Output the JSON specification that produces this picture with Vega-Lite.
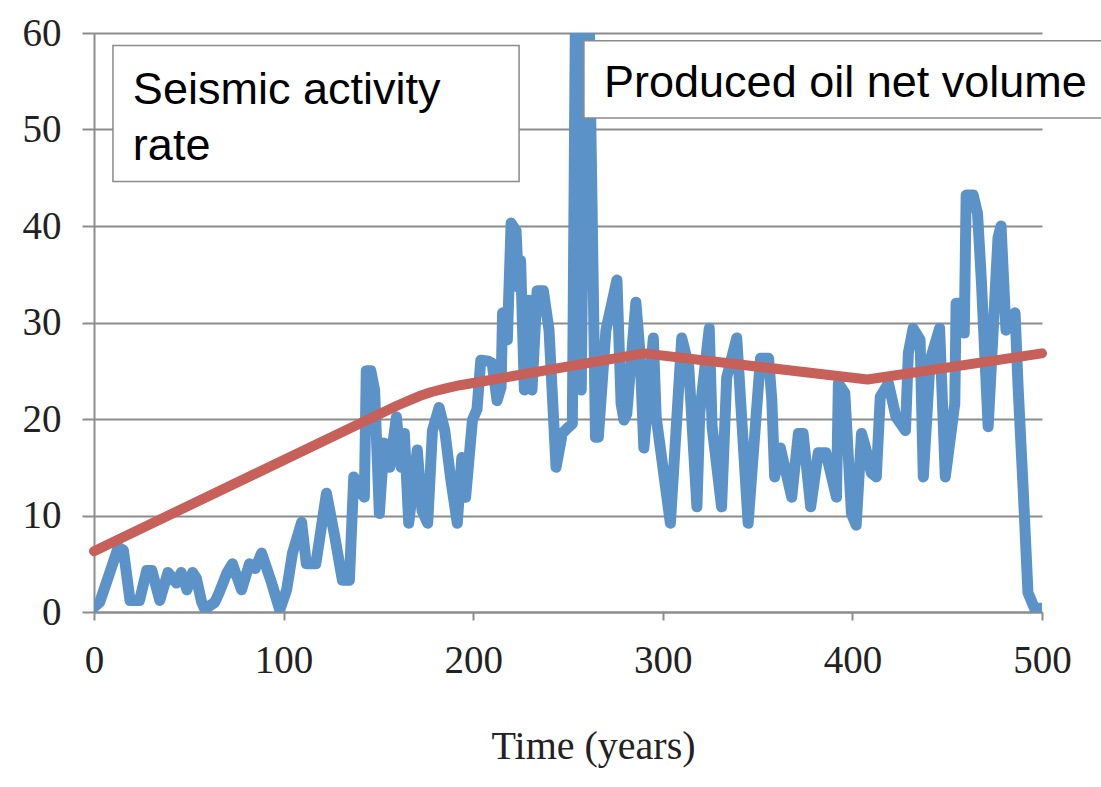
{
  "$schema": "https://vega.github.io/schema/vega-lite/v6.json",
  "autosize": {"type": "none"},
  "width": 948,
  "height": 579,
  "padding": {"left": 94, "top": 33, "right": 59, "bottom": 175},
  "background": "white",
  "config": {
    "view": {"stroke": null},
    "axis": {
      "domainColor": "#8c8c8c", "domainWidth": 2,
      "tickColor": "#8c8c8c", "tickWidth": 2,
      "gridColor": "#8c8c8c", "gridWidth": 2,
      "labelFont": "Liberation Serif", "labelFontSize": 39, "labelColor": "#222222", "labelFlush": false,
      "titleFont": "Liberation Serif", "titleFontSize": 40, "titleFontWeight": "normal", "titleColor": "#222222"
    }
  },
  "datasets": {
    "seismic": [
      {"t":0,"v":0.5},{"t":3,"v":1},{"t":7.5,"v":3.6},{"t":12.8,"v":6.7},{"t":15.5,"v":6.4},{"t":19,"v":1.2},{"t":24,"v":1.2},{"t":27.8,"v":4.3},{"t":30.5,"v":4.3},{"t":34.7,"v":1.2},{"t":39,"v":4.1},{"t":43.5,"v":3},{"t":46,"v":4.1},{"t":49,"v":2.3},{"t":52,"v":4.1},{"t":54,"v":3.5},{"t":56.8,"v":1},{"t":58.4,"v":0.3},{"t":63.7,"v":1},{"t":66,"v":2},{"t":70,"v":4},{"t":73,"v":5},{"t":77.8,"v":2.3},{"t":82,"v":5},{"t":85,"v":4.5},{"t":88.4,"v":6.1},{"t":93.7,"v":3},{"t":98,"v":0.2},{"t":101.6,"v":2.3},{"t":104.7,"v":6.1},{"t":109.5,"v":9.3},{"t":112,"v":5},{"t":117,"v":5},{"t":122.6,"v":12.3},{"t":127,"v":7.8},{"t":131,"v":3.3},{"t":134.7,"v":3.3},{"t":137,"v":14},{"t":140,"v":12.6},{"t":142.6,"v":11.9},{"t":143.6,"v":25},{"t":146,"v":25},{"t":148,"v":23},{"t":150.5,"v":10.2},{"t":153,"v":17.5},{"t":156,"v":15},{"t":159.5,"v":20.2},{"t":162,"v":15},{"t":163.7,"v":18.5},{"t":166,"v":9.2},{"t":170.5,"v":16.8},{"t":173,"v":10.5},{"t":176,"v":9.2},{"t":178.5,"v":18.8},{"t":182,"v":21.2},{"t":185,"v":18.8},{"t":188,"v":14},{"t":191.6,"v":9.2},{"t":194,"v":16},{"t":196,"v":11.9},{"t":199.6,"v":19.9},{"t":202,"v":21},{"t":204,"v":26.1},{"t":208,"v":26},{"t":210,"v":25.8},{"t":212.6,"v":21.9},{"t":214.7,"v":23.3},{"t":215.5,"v":31},{"t":218,"v":28.2},{"t":220,"v":40.3},{"t":222.6,"v":39.5},{"t":224,"v":33.6},{"t":225,"v":36.4},{"t":227,"v":23},{"t":229.5,"v":32.3},{"t":231,"v":23},{"t":233.7,"v":33.3},{"t":237,"v":33.3},{"t":240,"v":29.2},{"t":243.7,"v":15},{"t":247,"v":18.5},{"t":250.5,"v":19.2},{"t":252.3,"v":19.5},{"t":254.6,"v":80},{"t":257,"v":23},{"t":259.8,"v":80},{"t":264.5,"v":18.1},{"t":266,"v":18.1},{"t":270,"v":29.2},{"t":275.8,"v":34.4},{"t":278,"v":21.6},{"t":279.5,"v":19.9},{"t":281,"v":20.5},{"t":285.8,"v":32.1},{"t":288,"v":26.8},{"t":290,"v":17},{"t":295,"v":28.4},{"t":296.5,"v":20.2},{"t":304,"v":9.2},{"t":310,"v":28.4},{"t":313.7,"v":25.4},{"t":318,"v":10.9},{"t":319.5,"v":20.6},{"t":324.5,"v":29.4},{"t":326,"v":19.2},{"t":331,"v":10.9},{"t":333.7,"v":24.3},{"t":339,"v":28.4},{"t":345,"v":9.2},{"t":351.5,"v":26.3},{"t":355.8,"v":26.3},{"t":357.5,"v":22},{"t":359,"v":14},{"t":362,"v":17},{"t":368,"v":11.9},{"t":371.5,"v":18.5},{"t":374,"v":18.5},{"t":378,"v":10.9},{"t":382,"v":16.5},{"t":386,"v":16.5},{"t":391.6,"v":11.9},{"t":392.6,"v":23.7},{"t":396,"v":22.7},{"t":399.5,"v":10.2},{"t":402,"v":9},{"t":404.8,"v":18.5},{"t":407,"v":17},{"t":410,"v":14.4},{"t":412.6,"v":14},{"t":414.7,"v":22.3},{"t":419,"v":23.7},{"t":423,"v":20.2},{"t":428,"v":18.8},{"t":429.5,"v":26.8},{"t":432,"v":29.4},{"t":435.7,"v":28.2},{"t":437.4,"v":14},{"t":441,"v":26.1},{"t":446,"v":29.4},{"t":449,"v":14},{"t":454,"v":21.6},{"t":454.7,"v":32},{"t":457,"v":32},{"t":459,"v":28.9},{"t":460,"v":43.2},{"t":463.7,"v":43.2},{"t":466,"v":41.3},{"t":468,"v":34.4},{"t":471.6,"v":19.2},{"t":476.8,"v":38.8},{"t":478.4,"v":40},{"t":481,"v":29.2},{"t":485.8,"v":31},{"t":487.4,"v":23.3},{"t":490,"v":13},{"t":492.6,"v":2},{"t":496,"v":0.4},{"t":500,"v":0.4}
    ],
    "oil": [
      {"t":0,"v":6.3},{"t":160,"v":21.4},{"t":166,"v":21.9},{"t":172,"v":22.4},{"t":178,"v":22.8},{"t":185,"v":23.15},{"t":193,"v":23.5},{"t":290,"v":26.8},{"t":408,"v":24.1},{"t":500,"v":26.8}
    ],
    "boxes": [
      {"t":10,"t2":224.2,"v":58.7,"v2":44.6},
      {"t":258.4,"t2":540,"v":59.2,"v2":51.2}
    ],
    "labels": [
      {"t":20.5,"v":52.6,"label":"Seismic activity"},
      {"t":20.5,"v":46.8,"label":"rate"},
      {"t":269,"v":53.4,"label":"Produced oil net volume"}
    ]
  },
  "encoding": {
    "x": {"field": "t", "type": "quantitative",
      "scale": {"domain": [0, 500], "nice": false, "zero": false},
      "axis": {"values": [0,100,200,300,400,500], "grid": false, "tickSize": 8, "labelPadding": 21, "title": "Time (years)", "titleX": 499, "titleY": 146, "titleAlign": "center", "titleBaseline": "alphabetic"}},
    "y": {"field": "v", "type": "quantitative",
      "scale": {"domain": [0, 60], "nice": false},
      "axis": {"values": [0,10,20,30,40,50,60], "grid": true, "tickSize": 12, "labelPadding": 21, "title": null}}
  },
  "layer": [
    {"data": {"name": "seismic"},
     "mark": {"type": "line", "color": "#5b93c9", "strokeWidth": 11, "strokeJoin": "round", "strokeCap": "round", "clip": true}},
    {"data": {"name": "oil"},
     "mark": {"type": "line", "color": "#c8605a", "strokeWidth": 10, "strokeJoin": "round", "strokeCap": "round"}},
    {"data": {"name": "boxes"},
     "mark": {"type": "rect", "fill": "white", "stroke": "#8a8a8a", "strokeWidth": 1.5, "clip": false},
     "encoding": {"x2": {"field": "t2"}, "y2": {"field": "v2"}}},
    {"data": {"name": "labels"},
     "mark": {"type": "text", "align": "left", "baseline": "alphabetic", "font": "Liberation Sans", "fontSize": 45, "color": "black", "clip": false},
     "encoding": {"text": {"field": "label"}}}
  ]
}
